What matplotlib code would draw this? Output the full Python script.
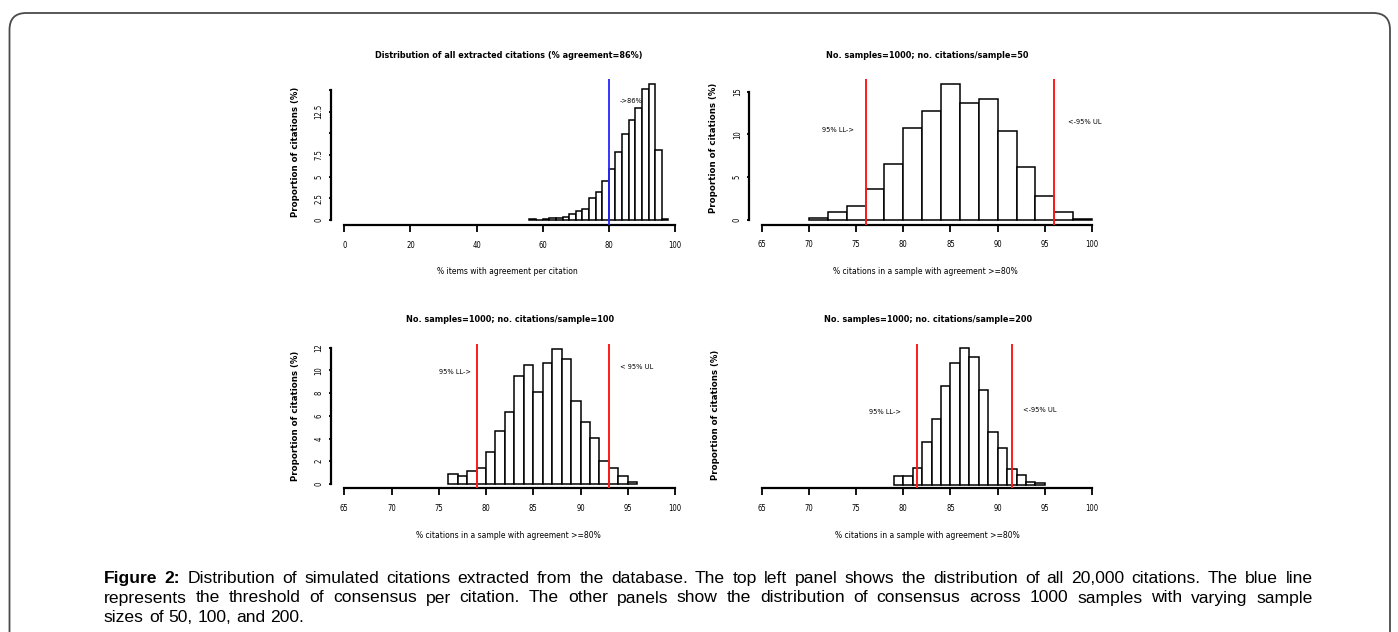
import matplotlib
matplotlib.use("Agg")
import matplotlib.pyplot as plt
from matplotlib import font_manager as fm
from matplotlib.patches import FancyBboxPatch
import numpy as np

# ---------------- data ----------------
tl_start, tl_width = 56, 2
tl_heights = [0.15, 0.05, 0.1, 0.2, 0.2, 0.4, 0.68, 1.08, 1.3, 2.55, 3.2, 4.55,
              5.9, 7.88, 9.88, 11.54, 12.95, 15.08, 15.72, 8.1, 0.1]
tl_line = [80]
tl_title = "Distribution of all extracted citations (% agreement=86%)"
tl_xlabel = "% items with agreement per citation"
tl_xticks = [0, 20, 40, 60, 80, 100]
tl_yticks = [0, 2.5, 5, 7.5, 10, 12.5, 15]
tl_yticklabels = ["0", "2.5", "5", "7.5", "", "12.5", ""]

tr_start, tr_width = 70, 2
tr_heights = [0.2, 0.95, 1.6, 3.6, 6.6, 10.75, 12.7, 15.9, 13.7, 14.1, 10.45,
              6.2, 2.85, 0.95, 0.1]
tr_lines = [76, 96]
tr_title = "No. samples=1000; no. citations/sample=50"

bl_start, bl_width = 76, 1
bl_heights = [0.85, 0.73, 1.17, 1.44, 2.82, 4.67, 6.31, 9.5, 10.45, 8.07, 10.62,
              11.91, 10.97, 7.28, 5.43, 4.05, 2.02, 1.41, 0.7, 0.2]
bl_lines = [79, 93]
bl_title = "No. samples=1000; no. citations/sample=100"

br_start, br_width = 79, 1
br_heights = [1.07, 1.07, 1.97, 5.05, 7.78, 11.76, 14.49, 16.19, 15.2, 11.21,
              6.24, 4.34, 1.9, 1.14, 0.39, 0.2]
br_lines = [81.5, 91.5]
br_title = "No. samples=1000; no. citations/sample=200"

samp_xlabel = "% citations in a sample with agreement >=80%"
samp_xticks = [65, 70, 75, 80, 85, 90, 95, 100]
ylabel = "Proportion of citations (%)"

caption_lines = [
    "Distribution of simulated citations extracted from the database. The top left panel shows the distribution of all 20,000 citations. The blue line",
    "represents the threshold of consensus per citation. The other panels show the distribution of consensus across 1000 samples with varying sample",
    "sizes of 50, 100, and 200.",
]
caption_bold = "Figure 2:"

# ---------------- fonts ----------------
names = {f.name for f in fm.fontManager.ttflist}
if "Liberation Sans Narrow" in names:
    NARROW = dict(family="Liberation Sans Narrow")
    scale = 1.0
else:
    NARROW = dict(family="DejaVu Sans", fontstretch="condensed")
    scale = 0.85

W, H = 1398, 632
fig = plt.figure(figsize=(W / 100, H / 100), dpi=100)
fig.patch.set_facecolor("white")


def fx(px):
    return px / W


def fy(py):
    return 1 - py / H


# outer frame
frame = FancyBboxPatch((fx(9.5), fy(660)), fx(1380.5), (660 - 13) / H,
                       boxstyle="round,pad=0,rounding_size=0.012",
                       transform=fig.transFigure, fill=False,
                       edgecolor="#4a4a4a", lw=1.3, mutation_aspect=W / H)
fig.add_artist(frame)


def make_axes(box, xmap, ymap):
    # box: (left, right, top, bottom) pixels; xmap/ymap: (v1, p1, v2, p2)
    l, r, t, b = box
    ax = fig.add_axes([fx(l), fy(b), (r - l) / W, (b - t) / H])
    xv1, xp1, xv2, xp2 = xmap
    sx = (xv2 - xv1) / (xp2 - xp1)
    ax.set_xlim(xv1 + (l - xp1) * sx, xv1 + (r - xp1) * sx)
    yv1, yp1, yv2, yp2 = ymap
    sy = (yv2 - yv1) / (yp1 - yp2)
    ax.set_ylim(yv1 - (b - yp1) * sy, yv1 + (yp1 - t) * sy)
    ax.patch.set_alpha(0)
    for s in ("top", "right"):
        ax.spines[s].set_visible(False)
    for s in ("left", "bottom"):
        ax.spines[s].set_linewidth(1.6)
    ax.tick_params(axis="x", direction="out", length=5, width=1.3, pad=6.5,
                   labelsize=5.5)
    ax.tick_params(axis="y", direction="out", length=1.8, width=1.3, pad=3.5,
                   labelsize=5.5)
    return ax


def hist(ax, start, width, heights):
    edges = start + width * np.arange(len(heights))
    ax.bar(edges, heights, width=width, align="edge", facecolor="white",
           edgecolor="black", lw=1.1, zorder=2)


def style_ticklabels(ax, rot_y=True):
    for lab in ax.get_xticklabels():
        lab.set(**NARROW)
    for lab in ax.get_yticklabels():
        lab.set(**NARROW)
        if rot_y:
            lab.set_rotation(90)
            lab.set_va("center")


ann = dict(ha="center", va="center", fontsize=6.3 * scale, **NARROW)

# ---- top-left ----
ax1 = make_axes((331, 688, 79, 225), (0, 344.3, 100, 675.0), (0, 220, 12.5, 111.7))
hist(ax1, tl_start, tl_width, tl_heights)
for v in tl_line:
    ax1.axvline(v, color="#2626ff", lw=1.3, zorder=3)
ax1.set_xticks(tl_xticks)
ax1.set_yticks(tl_yticks)
ax1.set_yticklabels(tl_yticklabels)
ax1.spines["left"].set_bounds(0, 15)
ax1.spines["bottom"].set_bounds(0, 100)
ax1.text(86.7, 13.7, "->86%", **ann)
style_ticklabels(ax1)

# ---- top-right ----
ax2 = make_axes((749.3, 1105, 79, 224.5), (65, 761.7, 100, 1092.0), (0, 220, 15, 91.7))
hist(ax2, tr_start, tr_width, tr_heights)
for v in tr_lines:
    ax2.axvline(v, color="#ff1a1a", lw=1.4, zorder=3)
ax2.set_xticks(samp_xticks)
ax2.set_yticks([0, 5, 10, 15])
ax2.spines["left"].set_bounds(0, 15)
ax2.spines["bottom"].set_bounds(65, 100)
ax2.text(73.1, 10.5, "95% LL->", **ann)
ax2.text(99.2, 11.4, "<-95% UL", **ann)
style_ticklabels(ax2)

# ---- bottom-left ----
ax3 = make_axes((331, 688, 344.3, 488), (65, 344.3, 100, 675.0), (0, 484, 12, 347.7))
hist(ax3, bl_start, bl_width, bl_heights)
for v in bl_lines:
    ax3.axvline(v, color="#ff1a1a", lw=1.4, zorder=3)
ax3.set_xticks(samp_xticks)
ax3.set_yticks([0, 2, 4, 6, 8, 10, 12])
ax3.spines["left"].set_bounds(0, 12)
ax3.spines["bottom"].set_bounds(65, 100)
ax3.text(76.7, 9.9, "95% LL->", **ann)
ax3.text(95.9, 10.3, "< 95% UL", **ann)
style_ticklabels(ax3)

# ---- bottom-right ----
ax4 = make_axes((749.3, 1105, 344.3, 488), (65, 761.7, 100, 1092.0), (0, 485, 1, 476.556))
hist(ax4, br_start, br_width, br_heights)
for v in br_lines:
    ax4.axvline(v, color="#ff1a1a", lw=1.4, zorder=3)
ax4.set_xticks(samp_xticks)
ax4.set_yticks([])
ax4.spines["left"].set_visible(False)
ax4.spines["bottom"].set_bounds(65, 100)
ax4.text(78.1, 8.7, "95% LL->", **ann)
ax4.text(94.5, 8.9, "<-95% UL", **ann)
style_ticklabels(ax4)

# ---- titles / labels ----
tkw = dict(ha="center", va="center", fontsize=7.6 * scale, weight="bold", **NARROW)
fig.text(fx(509), fy(55), tl_title, **tkw)
fig.text(fx(927), fy(55), tr_title, **tkw)
fig.text(fx(510), fy(320), bl_title, **tkw)
fig.text(fx(928), fy(320), br_title, **tkw)

xkw = dict(ha="center", va="center", fontsize=6.1, **NARROW)
fig.text(fx(507), fy(271), tl_xlabel, **xkw)
fig.text(fx(925), fy(271), samp_xlabel, **xkw)
fig.text(fx(508), fy(535), samp_xlabel, **xkw)
fig.text(fx(927), fy(535), samp_xlabel, **xkw)

ykw = dict(ha="center", va="center", rotation=90, fontsize=6.2, weight="bold",
           family="DejaVu Sans")
fig.text(fx(296), fy(152), ylabel, **ykw)
fig.text(fx(713), fy(148), ylabel, **ykw)
fig.text(fx(295), fy(416), ylabel, **ykw)
fig.text(fx(715), fy(415), ylabel, **ykw)

# ---- caption (justified) ----
renderer = fig.canvas.get_renderer()
cap_left, cap_right = 104, 1312.5
baselines = [583, 602.5, 622]
ckw = dict(fontsize=12.6, family="Liberation Sans", va="baseline", ha="left")
space_w = fig.text(0, 0, "a a", **ckw)
sw_full = space_w.get_window_extent(renderer).width
space_w.set_text("aa")
sw = sw_full - space_w.get_window_extent(renderer).width
space_w.remove()
for i, line in enumerate(caption_lines):
    words = line.split(" ")
    items = []
    if i == 0:
        for w in caption_bold.split(" "):
            items.append((w, "bold"))
    items += [(w, "normal") for w in words]
    texts = [fig.text(0, fy(baselines[i]), w, weight=wt, **ckw) for w, wt in items]
    widths = [t.get_window_extent(renderer).width for t in texts]
    if i < len(caption_lines) - 1:
        gap = (cap_right - cap_left - sum(widths)) / (len(texts) - 1)
        gap = max(gap, 0.6 * sw)
    else:
        gap = sw
    x = cap_left
    for t, wdt in zip(texts, widths):
        t.set_x(fx(x))
        x += wdt + gap

fig.savefig("out.png", dpi=100, facecolor="white")
